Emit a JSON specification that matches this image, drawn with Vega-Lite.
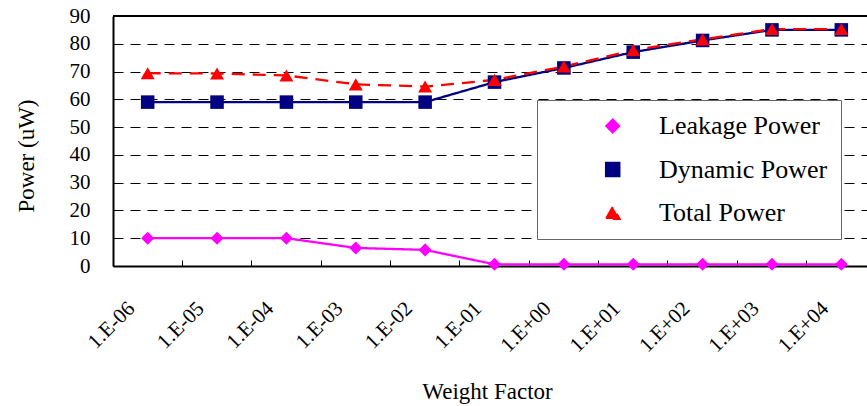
{
  "$schema": "https://vega.github.io/schema/vega-lite/v6.json",
  "width": 754,
  "height": 250,
  "autosize": "none",
  "padding": {"left": 113, "top": 16, "right": 0, "bottom": 140},
  "background": "white",
  "config": {"view": {"stroke": null}, "font": "Liberation Serif"},
  "data": {"values": [
    {"wf": "1.E-06", "series": "Leakage Power", "power": 10},
    {"wf": "1.E-05", "series": "Leakage Power", "power": 10},
    {"wf": "1.E-04", "series": "Leakage Power", "power": 10},
    {"wf": "1.E-03", "series": "Leakage Power", "power": 6.5},
    {"wf": "1.E-02", "series": "Leakage Power", "power": 5.8},
    {"wf": "1.E-01", "series": "Leakage Power", "power": 0.6},
    {"wf": "1.E+00", "series": "Leakage Power", "power": 0.6},
    {"wf": "1.E+01", "series": "Leakage Power", "power": 0.6},
    {"wf": "1.E+02", "series": "Leakage Power", "power": 0.6},
    {"wf": "1.E+03", "series": "Leakage Power", "power": 0.6},
    {"wf": "1.E+04", "series": "Leakage Power", "power": 0.6},
    {"wf": "1.E-06", "series": "Dynamic Power", "power": 59},
    {"wf": "1.E-05", "series": "Dynamic Power", "power": 59},
    {"wf": "1.E-04", "series": "Dynamic Power", "power": 59},
    {"wf": "1.E-03", "series": "Dynamic Power", "power": 59},
    {"wf": "1.E-02", "series": "Dynamic Power", "power": 59},
    {"wf": "1.E-01", "series": "Dynamic Power", "power": 66.2},
    {"wf": "1.E+00", "series": "Dynamic Power", "power": 71.3},
    {"wf": "1.E+01", "series": "Dynamic Power", "power": 77},
    {"wf": "1.E+02", "series": "Dynamic Power", "power": 81.2},
    {"wf": "1.E+03", "series": "Dynamic Power", "power": 85},
    {"wf": "1.E+04", "series": "Dynamic Power", "power": 85},
    {"wf": "1.E-06", "series": "Total Power", "power": 69.4},
    {"wf": "1.E-05", "series": "Total Power", "power": 69.3},
    {"wf": "1.E-04", "series": "Total Power", "power": 68.6},
    {"wf": "1.E-03", "series": "Total Power", "power": 65.4},
    {"wf": "1.E-02", "series": "Total Power", "power": 64.6},
    {"wf": "1.E-01", "series": "Total Power", "power": 67},
    {"wf": "1.E+00", "series": "Total Power", "power": 71.8},
    {"wf": "1.E+01", "series": "Total Power", "power": 77.7},
    {"wf": "1.E+02", "series": "Total Power", "power": 81.6},
    {"wf": "1.E+03", "series": "Total Power", "power": 85.3},
    {"wf": "1.E+04", "series": "Total Power", "power": 85.3}
  ]},
  "layer": [
    {
      "mark": {"type": "line", "strokeWidth": 2.3},
      "encoding": {
        "x": {
          "field": "wf", "type": "ordinal",
          "sort": ["1.E-06","1.E-05","1.E-04","1.E-03","1.E-02","1.E-01","1.E+00","1.E+01","1.E+02","1.E+03","1.E+04"],
          "scale": {"type": "band", "paddingInner": 0, "paddingOuter": 0, "range": [0, 763]},
          "axis": {
            "title": "Weight Factor", "bandPosition": 0,
            "labelAngle": -45, "labelAlign": "right", "labelBaseline": "middle",
            "labelOffset": -16, "labelPadding": 45, "labelFontSize": 21, "labelFont": "Liberation Serif",
            "labelColor": "black", "labelFlush": false, "labelOverlap": false,
            "tickSize": -6, "tickColor": "black", "tickWidth": 1,
            "domainColor": "black", "domainWidth": 2, "grid": false,
            "titleFontSize": 23, "titleFont": "Liberation Serif", "titleFontWeight": "normal", "titleColor": "black",
            "titleX": 374, "titleY": 132, "titleBaseline": "alphabetic", "titleAlign": "center"
          }
        },
        "y": {
          "field": "power", "type": "quantitative",
          "scale": {"domain": [0, 90], "nice": false},
          "axis": {
            "title": "Power (uW)", "values": [0,10,20,30,40,50,60,70,80,90], "tickCount": 10,
            "grid": true, "gridColor": "black", "gridDash": [10, 7], "gridWidth": 1,
            "ticks": false, "labelPadding": 23, "labelFontSize": 21, "labelFont": "Liberation Serif",
            "labelColor": "black", "labelFlush": false, "labelOverlap": false,
            "domainColor": "black", "domainWidth": 2,
            "titleFontSize": 23, "titleFont": "Liberation Serif", "titleFontWeight": "normal", "titleColor": "black",
            "titleX": -80, "titleY": 139.5, "titleAngle": -90, "titleAlign": "center", "titleBaseline": "alphabetic"
          }
        },
        "color": {
          "field": "series", "type": "nominal",
          "scale": {"domain": ["Leakage Power", "Dynamic Power", "Total Power"], "range": ["#ff00ff", "#000080", "#ff0000"]},
          "legend": {
            "orient": "none", "legendX": 424, "legendY": 84, "title": null, "direction": "vertical",
            "padding": 13, "strokeColor": "#666666", "fillColor": "white",
            "symbolSize": 220, "symbolOffset": 49.7, "symbolStrokeWidth": 2, "labelOffset": 33.3, "rowPadding": 17.5,
            "labelFontSize": 26, "labelFont": "Liberation Serif", "labelColor": "black", "labelLimit": 400,
            "labelExpr": "datum.label + '\u00a0\u00a0'"
          }
        },
        "strokeDash": {
          "field": "series", "type": "nominal",
          "scale": {"domain": ["Leakage Power", "Dynamic Power", "Total Power"], "range": [[1, 0], [1, 0], [13, 8]]},
          "legend": null
        }
      }
    },
    {
      "mark": {"type": "point", "filled": true, "opacity": 1},
      "encoding": {
        "x": {
          "field": "wf", "type": "ordinal",
          "sort": ["1.E-06","1.E-05","1.E-04","1.E-03","1.E-02","1.E-01","1.E+00","1.E+01","1.E+02","1.E+03","1.E+04"],
          "scale": {"type": "band", "paddingInner": 0, "paddingOuter": 0, "range": [0, 763]}
        },
        "y": {"field": "power", "type": "quantitative"},
        "color": {"field": "series", "type": "nominal", "legend": null},
        "shape": {
          "field": "series", "type": "nominal",
          "scale": {"domain": ["Leakage Power", "Dynamic Power", "Total Power"], "range": ["diamond", "square", "triangle-up"]},
          "legend": null
        },
        "size": {
          "field": "series", "type": "nominal",
          "scale": {"domain": ["Leakage Power", "Dynamic Power", "Total Power"], "range": [170, 196, 240]},
          "legend": null
        }
      }
    },
    {
      "mark": {"type": "rule", "color": "black", "strokeWidth": 1.5},
      "encoding": {"y": {"datum": 90}}
    }
  ]
}
